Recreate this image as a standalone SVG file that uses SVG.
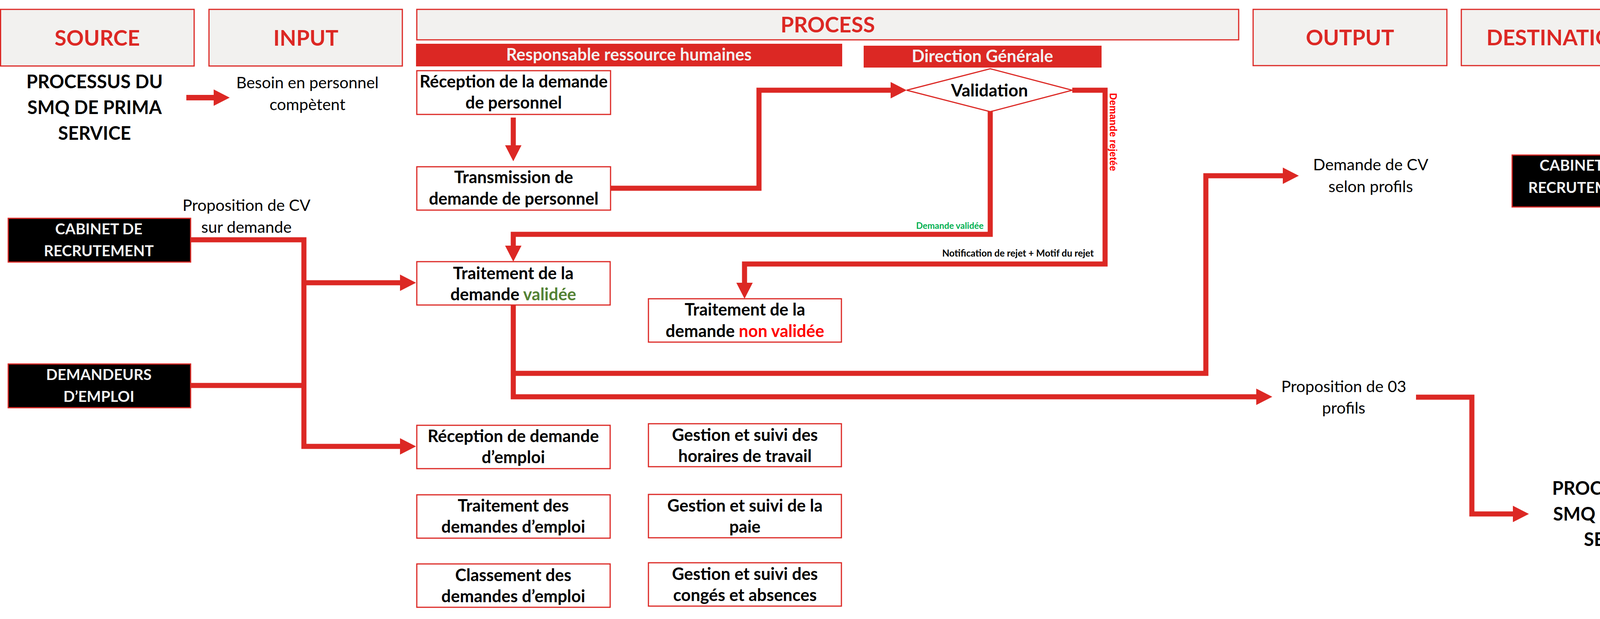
<svg xmlns="http://www.w3.org/2000/svg" width="4386" height="1585" viewBox="0 0 4386 1585">
<style>
.hdr{fill:#F2F1EF;stroke:#DC2824;stroke-width:3}
.hdrt{font-family:Lato,"Open Sans",sans-serif;font-weight:700;font-size:55px;fill:#DC2824;text-anchor:middle}
.band{fill:#DC2824}
.bandt{font-family:Lato,"Open Sans",sans-serif;font-weight:700;font-size:43px;fill:#F2F2F2;text-anchor:middle}
.box{fill:#FFFFFF;stroke:#DC2824;stroke-width:3}
.boxt{font-family:Lato,"Open Sans",sans-serif;font-weight:700;font-size:43px;fill:#000;text-anchor:middle}
.blk{fill:#000;stroke:#DC2824;stroke-width:3}
.blkt{font-family:Lato,"Open Sans",sans-serif;font-weight:700;font-size:38.5px;fill:#F2F2F2;text-anchor:middle}
.big{font-family:Lato,"Open Sans",sans-serif;font-weight:700;font-size:47px;fill:#000;text-anchor:middle}
.lbl{font-family:Lato,"Open Sans",sans-serif;font-weight:400;font-size:41px;fill:#000;text-anchor:middle}
.conn{fill:none;stroke:#DC2824;stroke-width:13;stroke-linejoin:miter;stroke-linecap:butt}
</style>
<defs>
<marker id="ah" markerUnits="userSpaceOnUse" viewBox="0 0 41 42" refX="0" refY="21" markerWidth="41" markerHeight="42" orient="auto">
<path d="M0,0 L41,21 L0,42 Z" fill="#DC2824"/>
</marker>
</defs>
<rect width="4386" height="1585" fill="#FFFFFF"/>

<g id="header-source"><rect class="hdr" x="1.5" y="24" width="495.5" height="145"/><text class="hdrt" x="249" y="117">SOURCE</text></g>
<g id="header-input"><rect class="hdr" x="535" y="24" width="495" height="145"/><text class="hdrt" x="783" y="117">INPUT</text></g>
<g id="header-process"><rect class="hdr" x="1067" y="24" width="2104" height="78"/><text class="hdrt" x="2119" y="83">PROCESS</text></g>
<g id="header-output"><rect class="hdr" x="3208" y="24" width="496" height="144"/><text class="hdrt" x="3456" y="116">OUTPUT</text></g>
<g id="header-destination"><rect class="hdr" x="3741" y="24" width="495" height="144"/><text class="hdrt" x="3988" y="116">DESTINATION</text></g>

<g id="lane-rh"><rect class="band" x="1065" y="112" width="1091" height="58"/><text class="bandt" x="1610" y="155">Responsable ressource humaines</text></g>
<g id="lane-dg"><rect class="band" x="2211" y="117" width="609" height="56"/><text class="bandt" x="2515" y="159">Direction Générale</text></g>

<g id="source-processus"><text class="big" x="242" y="226">PROCESSUS DU</text><text class="big" x="242" y="292">SMQ DE PRIMA</text><text class="big" x="242" y="358">SERVICE</text></g>
<g id="input-besoin"><text class="lbl" x="787" y="226">Besoin en personnel</text><text class="lbl" x="787" y="282">compètent</text></g>

<g id="reception-personnel"><rect class="box" x="1067" y="181" width="496" height="112"/><text class="boxt" x="1315" y="224">Réception de la demande</text><text class="boxt" x="1315" y="278">de personnel</text></g>
<g id="transmission"><rect class="box" x="1067" y="427" width="496" height="111"/><text class="boxt" x="1315" y="469">Transmission de</text><text class="boxt" x="1315" y="524">demande de personnel</text></g>

<g id="validation"><polygon points="2321,231 2535,176 2745,231 2535,286" fill="#FFFFFF" stroke="#DC2824" stroke-width="3"/><text class="boxt" x="2533" y="247" style="font-size:44px">Validation</text></g>

<g id="cabinet-source"><rect class="blk" x="21" y="559" width="467" height="112"/><text class="blkt" x="253" y="600">CABINET DE</text><text class="blkt" x="253" y="656">RECRUTEMENT</text></g>
<g id="input-proposition-cv"><text class="lbl" x="631" y="540">Proposition de CV</text><text class="lbl" x="631" y="596">sur demande</text></g>
<g id="demandeurs"><rect class="blk" x="21" y="932" width="467" height="112"/><text class="blkt" x="253" y="973">DEMANDEURS</text><text class="blkt" x="253" y="1029">D’EMPLOI</text></g>

<g id="traitement-validee"><rect class="box" x="1067" y="670" width="495" height="111"/><text class="boxt" x="1314" y="715">Traitement de la</text><text class="boxt" x="1314" y="769">demande <tspan fill="#548235">validée</tspan></text></g>
<g id="traitement-non-validee"><rect class="box" x="1660" y="765" width="494" height="111"/><text class="boxt" x="1907" y="808">Traitement de la</text><text class="boxt" x="1907" y="863">demande <tspan fill="#FF0000">non validée</tspan></text></g>

<g id="reception-emploi"><rect class="box" x="1067" y="1089" width="495" height="111"/><text class="boxt" x="1314" y="1132">Réception de demande</text><text class="boxt" x="1314" y="1186">d’emploi</text></g>
<g id="traitement-demandes"><rect class="box" x="1067" y="1267" width="495" height="111"/><text class="boxt" x="1314" y="1310">Traitement des</text><text class="boxt" x="1314" y="1364">demandes d’emploi</text></g>
<g id="classement"><rect class="box" x="1067" y="1444" width="495" height="111"/><text class="boxt" x="1314" y="1488">Classement des</text><text class="boxt" x="1314" y="1542">demandes d’emploi</text></g>
<g id="gestion-horaires"><rect class="box" x="1660" y="1085" width="494" height="110"/><text class="boxt" x="1907" y="1129">Gestion et suivi des</text><text class="boxt" x="1907" y="1183">horaires de travail</text></g>
<g id="gestion-paie"><rect class="box" x="1660" y="1266" width="494" height="111"/><text class="boxt" x="1907" y="1310">Gestion et suivi de la</text><text class="boxt" x="1907" y="1364">paie</text></g>
<g id="gestion-conges"><rect class="box" x="1660" y="1441" width="494" height="111"/><text class="boxt" x="1907" y="1485">Gestion et suivi des</text><text class="boxt" x="1907" y="1539">congés et absences</text></g>

<g id="output-demande-cv"><text class="lbl" x="3509" y="436">Demande de CV</text><text class="lbl" x="3509" y="492">selon profils</text></g>
<g id="cabinet-destination"><rect class="blk" x="3871" y="397" width="365" height="133"/><text class="blkt" x="4053" y="437">CABINET DE</text><text class="blkt" x="4053" y="494">RECRUTEMENT</text></g>
<g id="output-proposition-03"><text class="lbl" x="3440" y="1004">Proposition de 03</text><text class="lbl" x="3440" y="1059">profils</text></g>
<g id="destination-processus"><text class="big" x="4148" y="1267">PROCESSUS DU</text><text class="big" x="4148" y="1333">SMQ DE PRIMA</text><text class="big" x="4148" y="1398">SERVICE</text></g>

<g id="connectors">
<polyline class="conn" style="stroke-width:14" points="477,250 547,250" marker-end="url(#ah)"/>
<polyline class="conn" points="1314,301 1314,372" marker-end="url(#ah)"/>
<polyline class="conn" points="1563,482 1943,482 1943,231 2280,231" marker-end="url(#ah)"/>
<polyline class="conn" points="2535,286 2535,600 1314,600 1314,629" marker-end="url(#ah)"/>
<polyline class="conn" points="2745,231 2829,231 2829,676 1906,676 1906,724" marker-end="url(#ah)"/>
<polyline class="conn" points="488,614 778,614 778,1143 1024,1143" marker-end="url(#ah)"/>
<polyline class="conn" points="778,724 1024,724" marker-end="url(#ah)"/>
<polyline class="conn" points="488,987 778,987"/>
<polyline class="conn" points="1314,781 1314,1016 3216,1016" marker-end="url(#ah)"/>
<polyline class="conn" points="1314,956 3087,956 3087,450 3284,450" marker-end="url(#ah)"/>
<polyline class="conn" points="3625,1017 3768,1017 3768,1316 3873,1316" marker-end="url(#ah)"/>
<text x="2518" y="586" font-family="Lato,'Open Sans',sans-serif" font-weight="700" font-size="22.5" fill="#00B050" text-anchor="end">Demande validée</text>
<text x="2800" y="657" font-family="Lato,'Open Sans',sans-serif" font-weight="700" font-size="24" fill="#000" text-anchor="end">Notification de rejet + Motif du rejet</text>
<text transform="translate(2841,238) rotate(90)" font-family="'Liberation Sans',Arial,sans-serif" font-weight="700" font-size="25" fill="#FF0000">Demande rejetée</text>
</g>
</svg>
